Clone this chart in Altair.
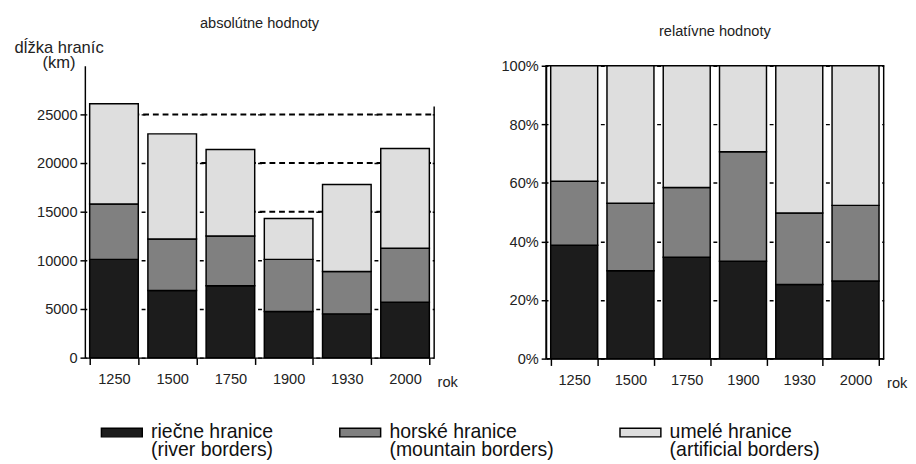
import altair as alt
import pandas as pd

# ---- data ----
years = ["1250", "1500", "1750", "1900", "1930", "2000"]
river = [10100, 6900, 7400, 4750, 4500, 5700]
mountain = [5700, 5300, 5100, 5350, 4350, 5550]
artificial = [10300, 10800, 8900, 4200, 8950, 10250]
categories = [
    "riečne hranice|(river borders)",
    "horské hranice|(mountain borders)",
    "umelé hranice|(artificial borders)",
]
colors = ["#1c1c1c", "#808080", "#dedede"]
abs_ticks = [0, 5000, 10000, 15000, 20000, 25000]
rel_ticks = [0, 0.2, 0.4, 0.6, 0.8, 1.0]
level_values = [25000, 20000, 15000]
level_start = ["1250", "1500", "1750"]
frame_span = [0, 25800]

rows = []
for i, y in enumerate(years):
    for k, (cat, series) in enumerate(zip(categories, [river, mountain, artificial])):
        rows.append({"year": y, "cat": cat, "ord": k, "value": series[i]})
df = pd.DataFrame(rows)
levels = pd.DataFrame({"year": level_start, "value": level_values})
frame = pd.DataFrame({"value": [frame_span[0]], "hi": [frame_span[1]]})

FONT = "Liberation Sans"
TXT = "#222222"
LW, LH = 359, 300
RW, RH = 347, 301
lstep = LW / 6
rstep = RW / 6

axis_style = dict(
    domainColor="black", domainWidth=1.5, tickColor="black", tickWidth=1.5,
    labelFont=FONT, labelFontSize=15, labelColor=TXT,
    titleFont=FONT, titleFontWeight="normal", titleColor=TXT,
)

legend = alt.Legend(
    orient="none", legendX=16, legendY=355, direction="horizontal", columns=3,
    title=None, symbolType="M-1,-0.21H1V0.21H-1Z", symbolSize=1764,
    symbolStrokeColor="black", symbolStrokeWidth=1.5,
    labelFont=FONT, labelFontSize=20, labelColor="#111111", labelLimit=400,
    labelExpr="split(datum.label, '|')", columnPadding=65, labelOffset=8,
)
fill = alt.Fill("cat:N", scale=alt.Scale(domain=categories, range=colors), legend=legend)
order = alt.Order("ord:Q")


def xenc(w):
    return alt.X(
        "year:N", sort=years,
        scale=alt.Scale(paddingInner=0.165, paddingOuter=0.0825),
        axis=alt.Axis(
            title="rok", titleAngle=0, titleAlign="left", titleBaseline="alphabetic",
            titleX=w + 3, titleY=30, titleFontSize=15, bandPosition=0.5,
            tickBand="extent", labelAngle=0, tickSize=7, labelPadding=8, **axis_style,
        ),
    )


abs_y = alt.Y(
    "value:Q", stack="zero", scale=alt.Scale(domain=[0, 30000], nice=False),
    axis=alt.Axis(
        values=abs_ticks, format="d", title=["dĺžka hraníc", "(km)"], titleAngle=0,
        titleAlign="center", titleBaseline="alphabetic", titleX=-27, titleY=-14,
        titleFontSize=17, titleLineHeight=16, grid=True, gridColor="black",
        gridWidth=1.5, gridDash=[4, lstep - 4], gridDashOffset=2, tickSize=5,
        labelPadding=3, **axis_style,
    ),
)

# ---- left: absolute values ----
level_rules = alt.Chart(levels).mark_rule(strokeDash=[6, 4], color="black", strokeWidth=2).encode(
    x=xenc(LW),
    x2=alt.value("width"),
    y=abs_y,
)
bars_abs = alt.Chart(df).mark_bar(stroke="black", strokeWidth=1.5).encode(
    x=xenc(LW),
    y=abs_y,
    fill=fill,
    order=order,
)
frame_rule = alt.Chart(frame).mark_rule(color="black", strokeWidth=1.5).encode(
    x=alt.value("width"),
    y=abs_y,
    y2="hi:Q",
)
left = alt.layer(level_rules, bars_abs, frame_rule).properties(
    width=LW, height=LH,
    title=alt.TitleParams("absolútne hodnoty", font=FONT, fontSize=15, fontWeight="normal",
                          color=TXT, anchor="middle", frame="group", offset=8),
    view=alt.ViewBackground(stroke="transparent"),
)

# ---- right: relative values ----
bars_rel = alt.Chart(df).mark_bar(stroke="black", strokeWidth=1.5).encode(
    x=xenc(RW),
    y=alt.Y(
        "value:Q", stack="normalize", scale=alt.Scale(domain=[0, 1], nice=False),
        axis=alt.Axis(
            values=rel_ticks, format=".0%", title=None, grid=True, gridColor="black",
            gridWidth=1.5, gridDash=[4, rstep - 4], gridDashOffset=2, tickSize=5,
            labelPadding=3, **axis_style,
        ),
    ),
    fill=fill,
    order=order,
)
right = bars_rel.properties(
    width=RW, height=RH,
    title=alt.TitleParams("relatívne hodnoty", font=FONT, fontSize=15, fontWeight="normal",
                          color=TXT, anchor="middle", frame="group", offset=21),
    view=alt.ViewBackground(stroke="black", strokeWidth=1.5),
)

chart = alt.hconcat(left, right, spacing=42).properties(
    padding={"left": 5, "top": 1, "right": 0, "bottom": 0},
    background="white",
).configure(style={"guide-label": {"lineHeight": 18}})

chart.save("out.html", embed_options={"renderer": "svg", "actions": False})
